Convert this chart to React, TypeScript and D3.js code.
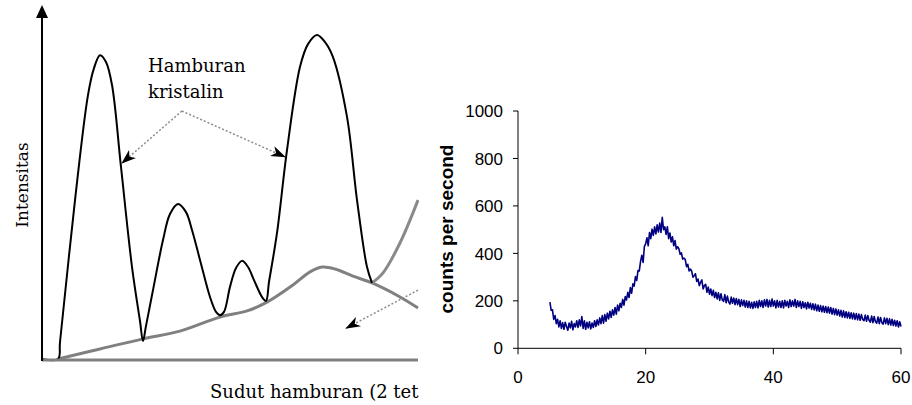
import React from "react";
import * as d3 from "d3";

// ---------- Left panel (schematic) data, abstract units 0..100 ----------
const crystX = [0, 4.26, 4.79, 8.78, 12.23, 13.83, 15.43, 17.02, 18.62, 21.01, 23.94, 26.06, 26.86, 27.66, 29.52, 32.18, 34.04, 36.17, 38.3, 39.89, 42.02, 44.68, 46.28, 47.34, 48.4, 50.0, 51.6, 53.19, 54.79, 56.38, 58.51, 59.57, 60.37, 62.5, 65.16, 68.62, 70.74, 73.14, 75.27, 77.39, 81.12, 83.78, 86.44, 87.77];
const crystY = [0.3, 0.3, 5.54, 49.2, 81.5, 89.8, 93.8, 91.7, 84.6, 59.4, 28.6, 12.0, 5.85, 10.5, 21.5, 36.9, 44.9, 48.0, 45.5, 40.0, 30.8, 19.4, 14.8, 13.8, 14.8, 22.5, 28.3, 30.5, 28.6, 24.6, 19.4, 18.2, 24.0, 39.1, 64.6, 90.2, 97.2, 100, 97.8, 93.2, 74.8, 49.2, 28.6, 23.7];

const tailX = [87.77, 90.7, 95.2, 100];
const tailY = [23.7, 26.8, 36.0, 49.2];

const amorX = [4.26, 15.43, 26.86, 36.7, 47.34, 54.52, 59.84, 66.76, 71.28, 74.47, 77.93, 82.71, 87.77, 95.21, 100];
const amorY = [0.3, 3.4, 6.5, 8.9, 13.2, 15.1, 17.8, 23.1, 27.1, 28.6, 28.0, 25.8, 23.7, 19.4, 16.0];

// arrows: [fromX, fromY, toX, toY]
const arrows = [
  [37.2, 76.6, 21.3, 60.6],
  [37.2, 76.6, 64.6, 62.5],
  [100, 21.5, 80.9, 9.8],
];

const labelLines = ["Hamburan", "kristalin"];
const leftYLabel = "Intensitas";
const leftXLabel = "Sudut hamburan (2 tet";

// ---------- Right panel (XRD) data ----------
const angleStart = 5;
const angleStep = 0.2;
const counts = [
  195, 160, 162, 122, 138, 104,
  122, 90, 116, 84, 108,
  80, 110, 92, 76, 106,
  86, 114, 78, 104, 90,
  116, 88, 120, 94, 134,
  84, 116, 80, 110, 86,
  112, 82, 106, 88, 116,
  92, 120, 98, 128, 104,
  138, 106, 142, 114, 148,
  124, 156, 130, 162, 140,
  172, 144, 182, 158, 190,
  172, 206, 182, 218, 204,
  236, 214, 256, 232, 272,
  262, 302, 286, 328, 326,
  366, 392, 362, 430, 440,
  466, 432, 488, 462, 502,
  476, 512, 482, 520, 490,
  528, 488, 552, 500, 512,
  480, 512, 462, 486, 448,
  470, 432, 454, 418, 428,
  420, 396, 402, 376, 380,
  374, 344, 354, 326, 334,
  326, 300, 306, 314, 282,
  292, 264, 278, 288, 250,
  264, 270, 236, 258, 228,
  250, 222, 244, 214, 236,
  208, 234, 202, 230, 204,
  198, 226, 192, 220, 196,
  186, 216, 190, 212, 184,
  210, 184, 206, 176, 204,
  180, 202, 174, 200, 172,
  198, 170, 194, 168, 196,
  172, 198, 170, 202, 176,
  200, 172, 204, 178, 206,
  174, 202, 176, 208, 178,
  200, 170, 202, 174, 198,
  172, 200, 170, 202, 178,
  198, 172, 204, 176, 200,
  178, 206, 172, 200, 176,
  198, 168, 196, 172, 192,
  166, 194, 170, 190, 164,
  188, 162, 186, 158, 182,
  156, 180, 154, 178, 152,
  176, 150, 174, 148, 172,
  144, 168, 142, 166, 140,
  162, 136, 160, 132, 158,
  130, 154, 128, 152, 126,
  150, 124, 148, 122, 146,
  120, 144, 118, 142, 122,
  116, 140, 114, 138, 118,
  110, 136, 108, 134, 112,
  106, 132, 104, 130, 108,
  102, 128, 104, 126, 100,
  124, 98, 122, 96, 118,
  94, 116, 90, 112, 92,
];
const xTicks = [0, 20, 40, 60];
const yTicks = [0, 200, 400, 600, 800, 1000];
const rightYLabel = "counts per second";

export default function App() {
  // left scales
  const xL = d3.scaleLinear().domain([0, 100]).range([42, 418]);
  const yL = d3.scaleLinear().domain([0, 100]).range([360, 35]);

  const mk = (xs: number[], ys: number[]) =>
    d3
      .line<number>()
      .x((i) => xL(xs[i]))
      .y((i) => yL(ys[i]))
      .curve(d3.curveCatmullRom.alpha(0.5))(xs.map((_, i) => i)) || "";

  const crystPath = mk(crystX, crystY);
  const tailPath = mk(tailX, tailY);
  const amorPath = mk(amorX, amorY);

  // right scales
  const x = d3.scaleLinear().domain([0, 60]).range([518, 901]);
  const y = d3.scaleLinear().domain([0, 1000]).range([348.3, 111]);
  const xrdPath =
    d3
      .line<number>()
      .x((_, i) => x(angleStart + i * angleStep))
      .y((c) => y(c))(counts) || "";

  const serif = "'DejaVu Serif', serif";
  const sans = "'Liberation Sans', Arial, sans-serif";

  return (
    <div style={{ position: "absolute", left: 0, top: 0 }}>
      <svg width={912} height={405} style={{ display: "block", background: "#fff" }}>
        <defs>
          <clipPath id="leftClip">
            <rect x={0} y={0} width={419} height={405} />
          </clipPath>
          <marker
            id="ah"
            viewBox="0 0 14 10"
            refX={13}
            refY={5}
            markerWidth={15}
            markerHeight={11}
            markerUnits="userSpaceOnUse"
            orient="auto"
          >
            <path d="M0,0 L14,5 L0,10 L4,5 Z" fill="#000" />
          </marker>
        </defs>

        {/* ---------------- Left panel ---------------- */}
        <g clipPath="url(#leftClip)">
          <path d={amorPath} fill="none" stroke="#808080" strokeWidth={3} />
          <path d={tailPath} fill="none" stroke="#8a8a8a" strokeWidth={3} />
          <path d={crystPath} fill="none" stroke="#000" strokeWidth={2} strokeLinejoin="round" />
          <line x1={xL(0)} x2={xL(100)} y1={yL(0)} y2={yL(0)} stroke="#808080" strokeWidth={3} />
          <line x1={xL(0)} x2={xL(0)} y1={yL(0) + 1} y2={16} stroke="#000" strokeWidth={2} />
          <path d={`M${xL(0)},5 L${xL(0) - 6},18 L${xL(0) + 6},18 Z`} fill="#000" />

          {arrows.map((a, i) => (
            <line
              key={i}
              x1={xL(a[0])}
              y1={yL(a[1])}
              x2={xL(a[2])}
              y2={yL(a[3])}
              stroke="#8c8c8c"
              strokeWidth={1.5}
              strokeDasharray="2,2"
              markerEnd="url(#ah)"
            />
          ))}

          {labelLines.map((t, i) => (
            <text key={t} x={148} y={72 + i * 26} fontFamily={serif} fontSize={18} fill="#000">
              {t}
            </text>
          ))}
          <text
            transform="translate(28,185) rotate(-90)"
            textAnchor="middle"
            fontFamily={serif}
            fontSize={17}
            fill="#000"
          >
            {leftYLabel}
          </text>
          <text x={210} y={398} fontFamily={serif} fontSize={18} fill="#000">
            {leftXLabel}
          </text>
        </g>

        {/* ---------------- Right panel ---------------- */}
        <g>
          <line x1={x(0)} x2={x(0)} y1={y(0)} y2={y(1000)} stroke="#000" strokeWidth={1} />
          {yTicks.map((t) => (
            <g key={t}>
              <line x1={x(0) - 5} x2={x(0)} y1={y(t)} y2={y(t)} stroke="#000" strokeWidth={1} />
              <text
                x={x(0) - 15}
                y={y(t)}
                dy="0.36em"
                textAnchor="end"
                fontFamily={sans}
                fontSize={17}
                fill="#000"
              >
                {t}
              </text>
            </g>
          ))}
          <line x1={x(0)} x2={x(60)} y1={y(0)} y2={y(0)} stroke="#000" strokeWidth={1} />
          {xTicks.map((t) => (
            <g key={t}>
              <line x1={x(t)} x2={x(t)} y1={y(0)} y2={y(0) + 6} stroke="#000" strokeWidth={1} />
              <text x={x(t)} y={383} textAnchor="middle" fontFamily={sans} fontSize={17} fill="#000">
                {t}
              </text>
            </g>
          ))}
          <text
            transform="translate(453,229) rotate(-90)"
            textAnchor="middle"
            fontFamily={sans}
            fontWeight="bold"
            fontSize={19}
            fill="#000"
          >
            {rightYLabel}
          </text>
          <path d={xrdPath} fill="none" stroke="#000080" strokeWidth={1.6} strokeLinejoin="round" />
        </g>
      </svg>
    </div>
  );
}
